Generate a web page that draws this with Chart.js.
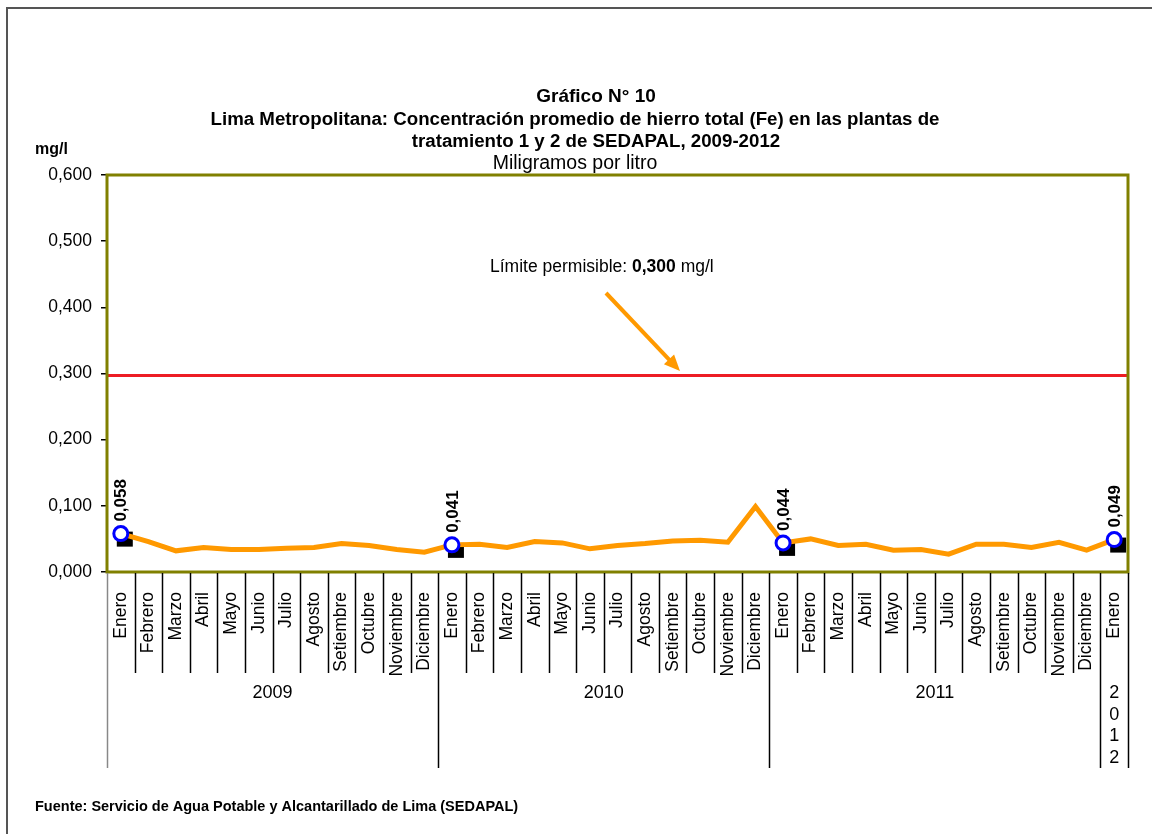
<!DOCTYPE html>
<html lang="es">
<head>
<meta charset="utf-8">
<title>Gráfico N° 10</title>
<script src="https://cdn.jsdelivr.net/npm/chart.js@4.4.1/dist/chart.umd.min.js"></script>
<style>
  html, body { margin: 0; padding: 0; background: #fff; }
  canvas { display: block; }
</style>
</head>
<body>
<canvas id="grafico" width="1152" height="834"></canvas>
<script>
const meses = [
  'Enero','Febrero','Marzo','Abril','Mayo','Junio','Julio','Agosto','Setiembre','Octubre','Noviembre','Diciembre',
  'Enero','Febrero','Marzo','Abril','Mayo','Junio','Julio','Agosto','Setiembre','Octubre','Noviembre','Diciembre',
  'Enero','Febrero','Marzo','Abril','Mayo','Junio','Julio','Agosto','Setiembre','Octubre','Noviembre','Diciembre',
  'Enero'
];
const valoresFe = [
  0.058, 0.046, 0.032, 0.037, 0.034, 0.034, 0.036, 0.037, 0.043, 0.040, 0.034, 0.030,
  0.041, 0.042, 0.037, 0.046, 0.044, 0.035, 0.040, 0.043, 0.047, 0.048, 0.045, 0.099,
  0.044, 0.050, 0.040, 0.042, 0.033, 0.034, 0.027, 0.042, 0.042, 0.037, 0.045, 0.033,
  0.049
];
const anios = ['2009', '2010', '2011', '2012'];
const mesesPorAnio = [12, 12, 12, 1];
const ticksY = [0, 0.1, 0.2, 0.3, 0.4, 0.5, 0.6];
const limite = 0.3;

const FONT = '"Liberation Sans", Arial, sans-serif';
const fmt = v => v.toFixed(3).replace('.', ',');
const esEnero = i => meses[i] === 'Enero';

const decorPlugin = {
  id: 'decor',
  beforeDatasetsDraw(chart) {
    const { ctx, chartArea: a, scales: { y } } = chart;
    ctx.save();
    // linea del limite permisible
    const yl = y.getPixelForValue(limite) + 2;
    ctx.strokeStyle = '#ED1C24';
    ctx.lineWidth = 3;
    ctx.beginPath(); ctx.moveTo(a.left, yl); ctx.lineTo(a.right, yl); ctx.stroke();
    // cuadros negros detras de los marcadores
    ctx.fillStyle = '#000';
    chart.getDatasetMeta(0).data.forEach((p, i) => {
      if (esEnero(i)) ctx.fillRect(p.x - 4, p.y - 2, 16, 15);
    });
    ctx.restore();
  },
  afterDatasetsDraw(chart) {
    const { ctx } = chart;
    ctx.save();
    ctx.font = 'bold 17px ' + FONT;
    ctx.fillStyle = '#000';
    ctx.textAlign = 'left';
    ctx.textBaseline = 'middle';
    chart.getDatasetMeta(0).data.forEach((p, i) => {
      if (!esEnero(i)) return;
      ctx.save();
      ctx.translate(p.x + 1, p.y - 12);
      ctx.rotate(-Math.PI / 2);
      ctx.fillText(fmt(valoresFe[i]), 0, 0);
      ctx.restore();
    });
    ctx.restore();
  },
  afterDraw(chart) {
    const { ctx, chartArea: a, scales: { x } } = chart;
    ctx.save();

    // marco del area de trazado
    ctx.strokeStyle = '#808000';
    ctx.lineWidth = 3;
    ctx.strokeRect(a.left, a.top, a.right - a.left, a.bottom - a.top);

    // separadores de meses y de años
    const finAnio = [0];
    mesesPorAnio.reduce((s, n) => { finAnio.push(s + n); return s + n; }, 0);
    for (let i = 0; i <= meses.length; i++) {
      const px = Math.round(x.getPixelForValue(i - 0.5)) + 0.5;
      const largo = finAnio.includes(i);
      ctx.strokeStyle = i === 0 ? '#888' : '#000';
      ctx.lineWidth = 1.5;
      ctx.beginPath();
      ctx.moveTo(px, a.bottom + 1);
      ctx.lineTo(px, largo ? 768 : 673);
      ctx.stroke();
    }

    // etiquetas de año
    ctx.fillStyle = '#000';
    ctx.font = '18px ' + FONT;
    ctx.textAlign = 'center';
    ctx.textBaseline = 'middle';
    anios.forEach((an, k) => {
      const x0 = x.getPixelForValue(finAnio[k] - 0.5);
      const x1 = x.getPixelForValue(finAnio[k + 1] - 0.5);
      const cx = (x0 + x1) / 2;
      if (ctx.measureText(an).width < x1 - x0 - 4) {
        ctx.fillText(an, cx, 693);
      } else {
        an.split('').forEach((c, j) => ctx.fillText(c, cx, 693 + j * 21.7));
      }
    });

    // titulos
    ctx.font = 'bold 19px ' + FONT;
    ctx.fillText('Gráfico N° 10', 596, 97);
    ctx.font = 'bold 18.7px ' + FONT;
    ctx.fillText('Lima Metropolitana: Concentración promedio de hierro total (Fe) en las plantas de', 575, 120);
    ctx.fillText('tratamiento 1 y 2 de SEDAPAL, 2009-2012', 596, 142);
    ctx.font = '19.5px ' + FONT;
    ctx.fillText('Miligramos por litro', 575, 164);

    // unidad del eje
    ctx.textAlign = 'left';
    ctx.font = 'bold 16px ' + FONT;
    ctx.fillText('mg/l', 35, 150);

    // anotacion del limite
    const partes = [['Límite permisible: ', ''], ['0,300', 'bold '], [' mg/l', '']];
    let tx = 490;
    partes.forEach(([t, w]) => {
      ctx.font = w + '17.5px ' + FONT;
      ctx.fillText(t, tx, 267);
      tx += ctx.measureText(t).width;
    });

    // flecha
    const ax0 = 606, ay0 = 293, ax1 = 680, ay1 = 371;
    const ang = Math.atan2(ay1 - ay0, ax1 - ax0);
    ctx.strokeStyle = '#FF9900';
    ctx.fillStyle = '#FF9900';
    ctx.lineWidth = 4;
    ctx.beginPath();
    ctx.moveTo(ax0, ay0);
    ctx.lineTo(ax1 - 12 * Math.cos(ang), ay1 - 12 * Math.sin(ang));
    ctx.stroke();
    ctx.beginPath();
    ctx.moveTo(ax1, ay1);
    ctx.lineTo(ax1 - 16 * Math.cos(ang) + 7 * Math.sin(ang), ay1 - 16 * Math.sin(ang) - 7 * Math.cos(ang));
    ctx.lineTo(ax1 - 16 * Math.cos(ang) - 7 * Math.sin(ang), ay1 - 16 * Math.sin(ang) + 7 * Math.cos(ang));
    ctx.closePath();
    ctx.fill();

    // fuente
    ctx.fillStyle = '#000';
    ctx.font = 'bold 14.5px ' + FONT;
    ctx.fillText('Fuente: Servicio de Agua Potable y Alcantarillado de Lima (SEDAPAL)', 35, 807);

    // recuadro exterior
    ctx.strokeStyle = '#555';
    ctx.lineWidth = 2;
    ctx.beginPath();
    ctx.moveTo(7, 834); ctx.lineTo(7, 8); ctx.lineTo(1152, 8);
    ctx.stroke();

    ctx.restore();
  }
};

new Chart(document.getElementById('grafico'), {
  type: 'line',
  data: {
    labels: meses,
    datasets: [{
      label: 'Fe',
      data: valoresFe,
      borderColor: '#FF9900',
      borderWidth: 5,
      tension: 0,
      pointRadius: meses.map((m, i) => esEnero(i) ? 7 : 0),
      pointBackgroundColor: '#fff',
      pointBorderColor: '#0000FF',
      pointBorderWidth: 3,
      fill: false
    }]
  },
  options: {
    responsive: false,
    animation: false,
    devicePixelRatio: 1,
    layout: { padding: { top: 175, right: 24, left: 0, bottom: 0 } },
    plugins: { legend: { display: false }, tooltip: { enabled: false } },
    scales: {
      x: {
        offset: true,
        border: { display: false },
        grid: { display: false },
        ticks: {
          autoSkip: false, minRotation: 90, maxRotation: 90, padding: 12,
          color: '#000', font: { family: FONT, size: 17.5 }
        },
        afterFit: s => { s.height = 262; }
      },
      y: {
        min: 0, max: 0.6,
        border: { display: false },
        grid: { drawOnChartArea: false, drawTicks: true, tickLength: 6, color: '#000', lineWidth: 1.5 },
        afterBuildTicks: s => { s.ticks = ticksY.map(v => ({ value: v })); },
        ticks: {
          padding: 9, color: '#000', font: { family: FONT, size: 17.5 },
          callback: v => fmt(v)
        },
        afterFit: s => { s.width = 107; }
      }
    }
  },
  plugins: [decorPlugin]
});
</script>
</body>
</html>
